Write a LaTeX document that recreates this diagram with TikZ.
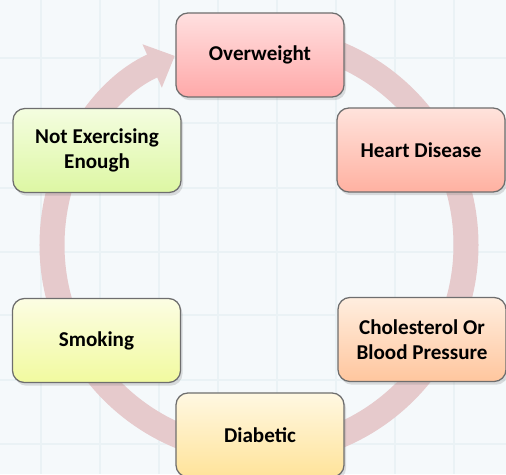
\documentclass[tikz,border=0pt]{standalone}
\usepackage{fontspec}
\setmainfont{Carlito}
\usetikzlibrary{calc}
\usetikzlibrary{arrows.meta}
\usetikzlibrary{shadows}

\definecolor{bgblue}{HTML}{F5F9FB}
\definecolor{gridblue}{HTML}{EAF2F5}
\definecolor{cyclepink}{HTML}{E6CACC}
\definecolor{boxedge}{HTML}{6E6E6E}
\definecolor{owtop}{HTML}{FFE0E0}  \definecolor{owbot}{HTML}{FFA9A9}
\definecolor{hdtop}{HTML}{FFE3DC}  \definecolor{hdbot}{HTML}{FFB1A1}
\definecolor{cbtop}{HTML}{FFEEDF}  \definecolor{cbbot}{HTML}{FFC69E}
\definecolor{dbtop}{HTML}{FFF8E2}  \definecolor{dbbot}{HTML}{FFE39A}
\definecolor{smtop}{HTML}{FCFDE3}  \definecolor{smbot}{HTML}{F1FA9F}
\definecolor{netop}{HTML}{F4FDE0}  \definecolor{nebot}{HTML}{DDF7A3}

\begin{document}
\begin{tikzpicture}[x=0.025cm, y=0.025cm,
  riskbox/.style={draw=boxedge, line width=0.9pt, rounded corners=0.3cm,
    minimum width=4.2cm, minimum height=2.1cm, inner sep=0pt, align=center,
    font=\bfseries\fontsize{15}{17.8}\selectfont,
    drop shadow={shadow xshift=0.05cm, shadow yshift=-0.08cm, opacity=0.25}}]
\useasboundingbox (0,0) rectangle (506,474);
\fill[bgblue] (0,0) rectangle (506,474);
\foreach \x in {41,100,...,454} {
 \draw[gridblue, line width=0.07cm] (\x,0) --++(0,474);
}
\foreach \y in {30,94,159,222,286,351,416} {
 \draw[gridblue, line width=0.07cm] (0,\y) --++(506,0);
}
\coordinate (O) at (259,229);
\draw[cyclepink, line width=0.625cm, -{Triangle[width=1.15cm,length=0.62cm]}]
  ($(O)+(90:207)$) arc[start angle=90, end angle=-246, radius=207];
\node[riskbox, top color=owtop, bottom color=owbot] (ow) at (260,419) {Overweight};
\node[riskbox, top color=hdtop, bottom color=hdbot] (hd) at (421,324) {Heart Disease};
\node[riskbox, top color=cbtop, bottom color=cbbot] (cbp) at (422,134.5) {Cholesterol Or\\Blood Pressure};
\node[riskbox, top color=dbtop, bottom color=dbbot] (db) at (260,39) {Diabetic};
\node[riskbox, top color=smtop, bottom color=smbot] (sm) at (96.5,133.5) {Smoking};
\node[riskbox, top color=netop, bottom color=nebot] (ne) at (97,323.5) {Not Exercising\\Enough};
\end{tikzpicture}
\end{document}
